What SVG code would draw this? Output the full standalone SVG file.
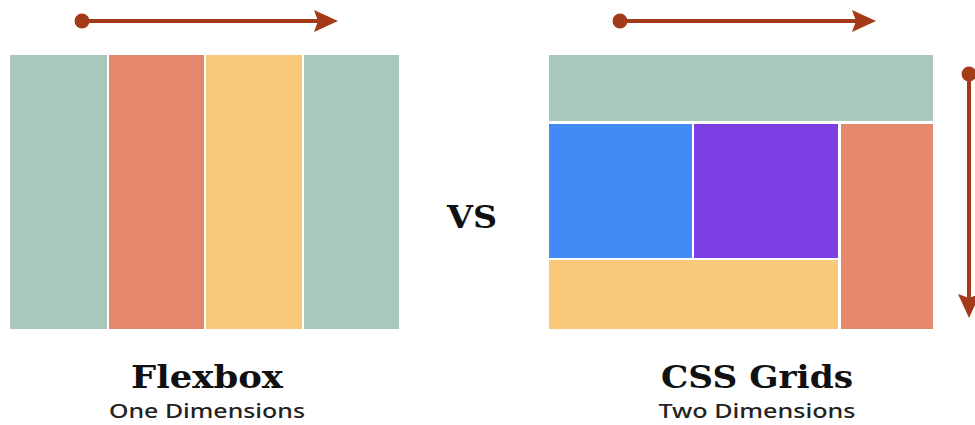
<svg xmlns="http://www.w3.org/2000/svg" width="975" height="425" viewBox="0 0 975 425">
<defs>
<style>
.arr{stroke:#a33b18;stroke-width:4;fill:none}
.dot{fill:#a33b18}
.head{fill:#a33b18}
.title{font-family:"DejaVu Serif",serif;font-weight:bold;font-size:32px;fill:#111;text-anchor:middle}
.sub{font-family:"Noto Sans","Open Sans",sans-serif;font-weight:500;font-size:20px;fill:#222;text-anchor:middle}
.g{fill:#a9c7ba}.r{fill:#e5876d}.y{fill:#f8c978}.b{fill:#448af7}.p{fill:#7d3ee3}
</style>
</defs>
<rect width="975" height="425" fill="#ffffff"/>
<g id="connectors">
<g id="flex-arrow"><circle class="dot" cx="82" cy="21" r="7.5"/><line class="arr" x1="82" y1="21" x2="322" y2="21"/><path class="head" d="M338 21 L314 10 L318 21 L314 32 Z"/></g>
<g id="grid-arrow-h"><circle class="dot" cx="620" cy="21" r="7.5"/><line class="arr" x1="620" y1="21" x2="860" y2="21"/><path class="head" d="M876 21 L852 10 L856 21 L852 32 Z"/></g>
<g id="grid-arrow-v"><circle class="dot" cx="969" cy="74" r="7.5"/><line class="arr" x1="969" y1="74" x2="969" y2="302"/><path class="head" d="M969 318 L958 294 L969 298 L980 294 Z"/></g>
</g>
<g id="flexbox">
<rect class="g" x="10" y="55" width="97" height="274"/>
<rect class="r" x="109" y="55" width="95" height="274"/>
<rect class="y" x="206" y="55" width="96" height="274"/>
<rect class="g" x="304" y="55" width="95" height="274"/>
</g>
<g id="grid">
<rect class="g" x="549" y="55" width="384" height="66"/>
<rect class="b" x="549" y="124" width="143" height="134"/>
<rect class="p" x="694" y="124" width="144" height="134"/>
<rect class="y" x="549" y="260" width="289" height="69"/>
<rect class="r" x="841" y="124" width="92" height="205"/>
</g>
<g id="vs"><text class="title" x="472" y="228" textLength="50" lengthAdjust="spacingAndGlyphs">VS</text></g>
<g id="flexbox-label">
<text class="title" x="207" y="388" textLength="152" lengthAdjust="spacingAndGlyphs">Flexbox</text>
<text class="sub" x="207" y="418" textLength="196" lengthAdjust="spacingAndGlyphs">One Dimensions</text>
</g>
<g id="grid-label">
<text class="title" x="757" y="388" textLength="192" lengthAdjust="spacingAndGlyphs">CSS Grids</text>
<text class="sub" x="757" y="418" textLength="197" lengthAdjust="spacingAndGlyphs">Two Dimensions</text>
</g>
</svg>
